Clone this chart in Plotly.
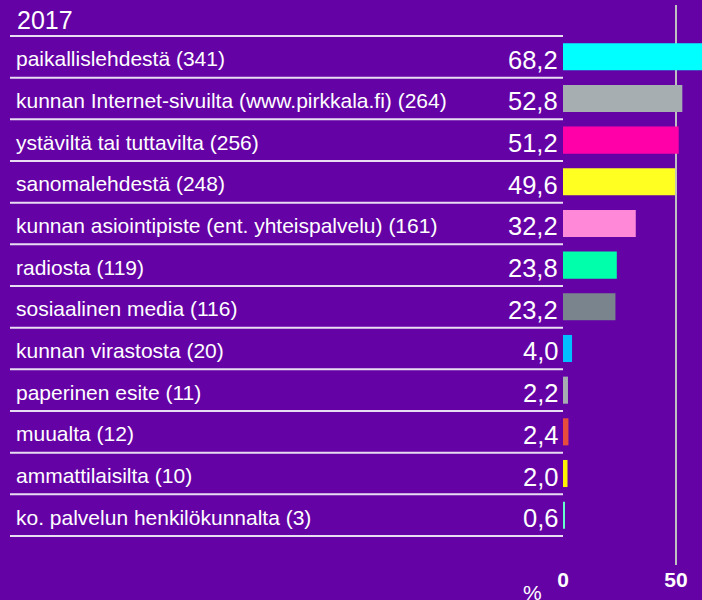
import plotly.graph_objects as go

categories = [
    "paikallislehdestä (341)",
    "kunnan Internet-sivuilta (www.pirkkala.fi) (264)",
    "ystäviltä tai tuttavilta (256)",
    "sanomalehdestä (248)",
    "kunnan asiointipiste (ent. yhteispalvelu) (161)",
    "radiosta (119)",
    "sosiaalinen media (116)",
    "kunnan virastosta (20)",
    "paperinen esite (11)",
    "muualta (12)",
    "ammattilaisilta (10)",
    "ko. palvelun henkilökunnalta (3)",
]
values = [68.2, 52.8, 51.2, 49.6, 32.2, 23.8, 23.2, 4.0, 2.2, 2.4, 2.0, 0.6]
bar_colors = ["#00FFFF", "#A6AEB2", "#FF00A8", "#FFFF22", "#FF88D8", "#00FFAA",
              "#7A848C", "#00C0FF", "#A6AEB2", "#E84C3D", "#FFF200", "#66FFCC"]
year_label = "2017"
tick_vals = [0, 50]
tick_text = ["0", "50"]
unit_label = "%"

BG = "#6502A6"
FONT = "Liberation Sans, Arial, sans-serif"

W, H = 702, 600
ML, MR, MT, MB = 563, 0, 5, 35
PW = W - ML - MR
PH = H - MT - MB
ROW = 41.67
ROW0 = 56.8  # pixel center of first row

y_idx = list(range(len(categories)))
y_top = -(ROW0 - MT) / ROW
y_bot = (H - MB - ROW0) / ROW

fig = go.Figure()
fig.add_trace(go.Bar(
    x=values, y=y_idx, orientation="h",
    marker=dict(color=bar_colors, line=dict(width=0)),
    width=0.65, hoverinfo="skip",
))

def px_to_paper_x(px):
    return (px - ML) / PW

annotations = []
annotations.append(dict(text=year_label, xref="paper", yref="paper",
                        x=px_to_paper_x(15), y=(H - MB - 20) / PH,
                        xanchor="left", yanchor="middle", showarrow=False,
                        font=dict(family=FONT, size=25, color="white")))
for i, (c, v) in enumerate(zip(categories, values)):
    annotations.append(dict(text=c, xref="paper", yref="y",
                            x=px_to_paper_x(14), y=i, xanchor="left", yanchor="middle",
                            showarrow=False, yshift=-2,
                            font=dict(family=FONT, size=21, color="white")))
    annotations.append(dict(text=f"{v:.1f}".replace(".", ","), xref="paper", yref="y",
                            x=px_to_paper_x(560), y=i, xanchor="right", yanchor="middle",
                            showarrow=False, yshift=-3,
                            font=dict(family=FONT, size=25.5, color="white")))
annotations.append(dict(text=unit_label, xref="paper", yref="paper",
                        x=px_to_paper_x(532), y=(H - MB - 592) / PH,
                        xanchor="center", yanchor="middle", showarrow=False,
                        font=dict(family=FONT, size=21, color="white")))

shapes = []
for k in range(len(categories) + 1):
    shapes.append(dict(type="line", xref="paper", yref="y",
                       x0=px_to_paper_x(10), x1=0, y0=k - 0.5, y1=k - 0.5,
                       line=dict(color="#E8DDF2", width=2)))
shapes.append(dict(type="line", xref="x", yref="paper", x0=50, x1=50, y0=0, y1=1,
                   line=dict(color="#C0C0C0", width=2), layer="below"))

fig.update_layout(
    width=W, height=H,
    margin=dict(l=ML, r=MR, t=MT, b=MB, pad=0),
    paper_bgcolor=BG, plot_bgcolor=BG,
    showlegend=False,
    xaxis=dict(range=[0, PW / 2.26], tickvals=tick_vals, ticktext=tick_text,
               showgrid=False, zeroline=False, showline=False, ticks="",
               tickfont=dict(family=FONT, size=21, color="white", weight="bold"),
               fixedrange=True),
    yaxis=dict(range=[y_bot, y_top], showgrid=False, zeroline=False,
               showticklabels=False, ticks="", fixedrange=True),
    annotations=annotations, shapes=shapes,
)

fig.write_html(
    "out.html",
    config={"displayModeBar": False},
    post_script="document.body.style.margin='0';document.body.style.overflow='hidden';"
                "document.body.style.background='" + BG + "';",
)
